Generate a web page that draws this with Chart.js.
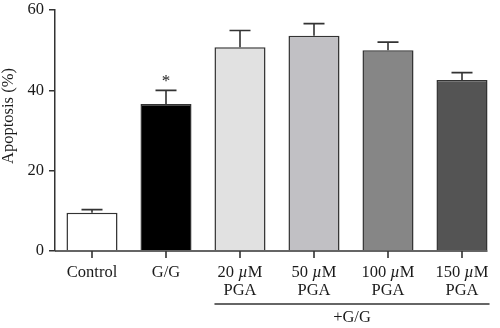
<!DOCTYPE html>
<html>
<head>
<meta charset="utf-8">
<script src="https://cdn.jsdelivr.net/npm/chart.js@4.4.1/dist/chart.umd.min.js"></script>
<style>
  html, body { margin: 0; padding: 0; background: #fff; }
  #chart { display: block; }
</style>
</head>
<body>
<canvas id="chart" width="500" height="328"></canvas>
<script>
// ===== Données =====
const categories = ["Control", "G/G", "20 µM PGA", "50 µM PGA", "100 µM PGA", "150 µM PGA"];
const categoryLines = [["Control"], ["G/G"], ["20 µM", "PGA"], ["50 µM", "PGA"], ["100 µM", "PGA"], ["150 µM", "PGA"]];
const apoptosis = [9.5, 36.6, 50.7, 53.6, 50.0, 42.6];
const semErr = [0.8, 3.4, 4.2, 3.0, 2.0, 1.8];
const yTicks = [0, 20, 40, 60];
const significant = [false, true, false, false, false, false];
const groupLabel = "+G/G";
const groupFrom = 2;   // premier groupe traité +G/G
const yTitle = "Apoptosis (%)";

// ===== Style =====
const barColors = ["#ffffff", "#000000", "#e1e1e1", "#c1c0c4", "#868686", "#545454"];
const ink = "#333333";
const FONT = '"Liberation Serif", "Times New Roman", serif';
const FS = 16.5;

// Texte avec µ en italique
function drawMixed(ctx, text, cx, y) {
    const parts = text.split(/(µ)/).filter(p => p.length);
    const fonts = parts.map(p => (p === "µ" ? "italic " : "") + FS + "px " + FONT);
    let total = 0;
    const widths = parts.map((p, i) => {
        ctx.font = fonts[i];
        const w = ctx.measureText(p).width;
        total += w;
        return w;
    });
    let x = cx - total / 2;
    ctx.textAlign = "left";
    parts.forEach((p, i) => {
        ctx.font = fonts[i];
        ctx.fillText(p, x, y);
        x += widths[i];
    });
}

const annotations = {
    id: "annotations",
    afterDatasetsDraw(chart) {
        const ctx = chart.ctx;
        const xs = chart.scales.x;
        const ys = chart.scales.y;
        const meta = chart.getDatasetMeta(0);
        const y0 = ys.getPixelForValue(0);
        ctx.save();
        ctx.strokeStyle = ink;
        ctx.fillStyle = "#1a1a1a";
        ctx.lineWidth = 1.6;

        // barres d'erreur (vers le haut) + astérisque
        apoptosis.forEach((v, i) => {
            const bar = meta.data[i];
            const yTop = ys.getPixelForValue(v);
            const yErr = ys.getPixelForValue(v + semErr[i]);
            ctx.beginPath();
            ctx.moveTo(bar.x, yTop);
            ctx.lineTo(bar.x, yErr);
            ctx.moveTo(bar.x - 10.5, yErr);
            ctx.lineTo(bar.x + 10.5, yErr);
            ctx.stroke();
            if (significant[i]) {
                ctx.font = "17px " + FONT;
                ctx.textAlign = "center";
                ctx.textBaseline = "alphabetic";
                ctx.fillText("*", bar.x, yErr - 4);
            }
        });

        // axe des x et graduations
        const lastBar = meta.data[meta.data.length - 1];
        const xEnd = lastBar.x + lastBar.width / 2;
        ctx.beginPath();
        ctx.moveTo(chart.chartArea.left, y0);
        ctx.lineTo(xEnd, y0);
        categories.forEach((c, i) => {
            const x = xs.getPixelForValue(i);
            ctx.moveTo(x, y0);
            ctx.lineTo(x, y0 + 7);
        });
        ctx.stroke();

        // étiquettes des catégories
        ctx.textBaseline = "alphabetic";
        categoryLines.forEach((lines, i) => {
            const x = xs.getPixelForValue(i);
            lines.forEach((t, k) => drawMixed(ctx, t, x, y0 + 26 + k * 18));
        });

        // accolade +G/G
        const bx0 = meta.data[groupFrom].x - meta.data[groupFrom].width / 2;
        const bx1 = xEnd + 2;
        const by = y0 + 53;
        ctx.beginPath();
        ctx.moveTo(bx0, by);
        ctx.lineTo(bx1, by);
        ctx.stroke();
        ctx.font = FS + "px " + FONT;
        ctx.textAlign = "center";
        ctx.fillText(groupLabel, (bx0 + bx1) / 2, by + 18);

        // titre de l'axe y
        ctx.translate(9, 116);
        ctx.rotate(-Math.PI / 2);
        ctx.textBaseline = "middle";
        ctx.fillText(yTitle, 0, 0);
        ctx.restore();
    }
};

new Chart(document.getElementById("chart"), {
    type: "bar",
    data: {
        labels: categories,
        datasets: [{
            data: apoptosis,
            backgroundColor: barColors,
            borderColor: ink,
            borderWidth: 1.5,
            barPercentage: 0.69,
            categoryPercentage: 1
        }]
    },
    options: {
        responsive: false,
        animation: false,
        devicePixelRatio: 1,
        layout: { padding: { top: 10, bottom: 77, left: 0, right: 1 } },
        plugins: { legend: { display: false }, tooltip: { enabled: false } },
        scales: {
            x: { display: false },
            y: {
                min: 0,
                max: 60,
                afterBuildTicks: (s) => { s.ticks = yTicks.map(v => ({ value: v })); },
                afterFit: (s) => { s.width = 55; s.paddingTop = 0; s.paddingBottom = 0; },
                ticks: { color: "#1a1a1a", padding: 5, font: { family: FONT, size: FS } },
                grid: { drawOnChartArea: false, tickLength: 6, color: ink, lineWidth: 1.5 },
                border: { color: ink, width: 1.5 }
            }
        }
    },
    plugins: [annotations]
});
</script>
</body>
</html>
